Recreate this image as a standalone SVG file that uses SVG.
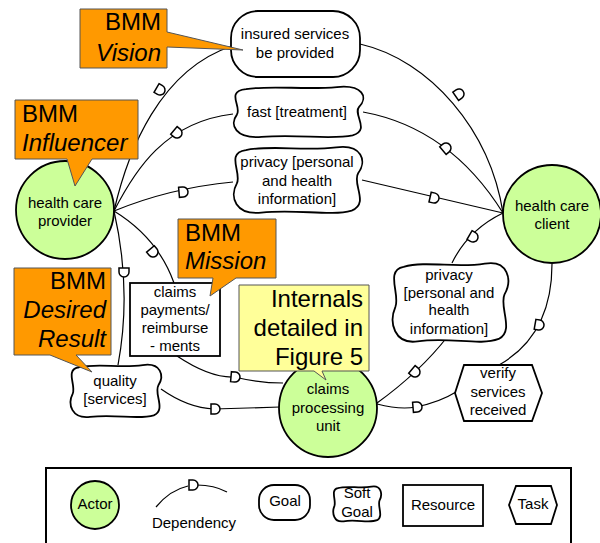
<svg xmlns="http://www.w3.org/2000/svg" xmlns:xlink="http://www.w3.org/1999/xlink" width="600" height="543" viewBox="0 0 600 543">
<style>
text{font-family:"Liberation Sans",Arial,sans-serif;fill:#000}
.t{font-size:15px;text-anchor:middle}
.c{font-size:24px}
.ce{font-size:24px;text-anchor:end}
.i{font-style:italic}
.actor{fill:#ccff99;stroke:#000;stroke-width:1.8}
.node{fill:#fff;stroke:#000;stroke-width:1.8}
.call{fill:#ff9900;stroke:#555;stroke-width:1}
.note{fill:#ffff99;stroke:#555;stroke-width:1}
.link{fill:none;stroke:#000;stroke-width:1.2}
.dm{fill:#fff;stroke:#000;stroke-width:1.5}
</style>
<defs>
<path id="soft" vector-effect="non-scaling-stroke" d="M10,6 C30,-2 55,8 80,2 C100,-3 104,22 97,40 C92,55 106,85 92,95 C75,104 50,92 22,98 C2,102 -3,75 3,55 C7,40 -6,10 10,6 Z"/>
<path id="dep" d="M-4,-5 H0 A5,5 0 0 1 0,5 H-4 Z"/>
</defs>

<g id="connectors">
<path class="link" d="M114,211 C128,150 160,70 232,46"/>
<path class="link" d="M114,211 C135,170 165,122 233,114"/>
<path class="link" d="M114,211 Q170,188 233,182"/>
<path class="link" d="M114,211 Q158,238 174,283"/>
<path class="link" d="M114,211 Q132,290 118,365"/>
<path class="link" d="M360,44 C430,60 490,130 503,213"/>
<path class="link" d="M363,112 Q450,128 503,213"/>
<path class="link" d="M362,180 L503,213"/>
<path class="link" d="M503,213 Q468,230 452,263"/>
<path class="link" d="M448,336 Q420,372 377,403"/>
<path class="link" d="M552,264 Q552,335 499,365"/>
<path class="link" d="M377,404 Q400,410 416,407 Q440,402 456,392"/>
<path class="link" d="M177,356 Q210,378 234,377 Q260,383 283,383"/>
<path class="link" d="M161,389 Q188,408 214,409 L280,407"/>
<use href="#dep" class="dm" transform="translate(160,90) rotate(30)"/>
<use href="#dep" class="dm" transform="translate(177,133) rotate(40)"/>
<use href="#dep" class="dm" transform="translate(183,192) rotate(-5)"/>
<use href="#dep" class="dm" transform="translate(153,252) rotate(50)"/>
<use href="#dep" class="dm" transform="translate(124,272) rotate(90)"/>
<use href="#dep" class="dm" transform="translate(459,94) rotate(-35)"/>
<use href="#dep" class="dm" transform="translate(446,148) rotate(-40)"/>
<use href="#dep" class="dm" transform="translate(434,198) rotate(13)"/>
<use href="#dep" class="dm" transform="translate(473,237) rotate(30)"/>
<use href="#dep" class="dm" transform="translate(415,372) rotate(40)"/>
<use href="#dep" class="dm" transform="translate(539,325) rotate(10)"/>
<use href="#dep" class="dm" transform="translate(417,407) rotate(-5)"/>
<use href="#dep" class="dm" transform="translate(235,377) rotate(5)"/>
<use href="#dep" class="dm" transform="translate(215,409) rotate(0)"/>
</g>

<g id="provider">
<circle class="actor" cx="65" cy="210" r="49"/>
<text class="t" x="65" y="208">health care</text>
<text class="t" x="65" y="226">provider</text>
</g>
<g id="client">
<circle class="actor" cx="552" cy="214" r="49"/>
<text class="t" x="552" y="211">health care</text>
<text class="t" x="552" y="229">client</text>
</g>
<g id="claims-processing">
<circle class="actor" cx="328" cy="408" r="49"/>
<text class="t" x="328" y="394">claims</text>
<text class="t" x="328" y="413">processing</text>
<text class="t" x="328" y="431">unit</text>
</g>
<g id="insured-services">
<rect class="node" x="231" y="11" width="129" height="66" rx="27"/>
<text class="t" x="295" y="39">insured services</text>
<text class="t" x="295" y="58">be provided</text>
</g>
<g id="fast">
<use href="#soft" class="node" transform="translate(233,86) scale(1.30,0.52)"/>
<text class="t" x="297" y="117">fast [treatment]</text>
</g>
<g id="privacy1">
<use href="#soft" class="node" transform="translate(233,146) scale(1.29,0.68)"/>
<text class="t" x="297" y="167">privacy [personal</text>
<text class="t" x="297" y="186">and health</text>
<text class="t" x="297" y="204">information]</text>
</g>
<g id="privacy2">
<use href="#soft" class="node" transform="translate(392,262) scale(1.16,0.81)"/>
<text class="t" x="449" y="280">privacy</text>
<text class="t" x="449" y="298">[personal and</text>
<text class="t" x="449" y="315">health</text>
<text class="t" x="449" y="334">information]</text>
</g>
<g id="claims-payments">
<rect class="node" x="130" y="283" width="90" height="73"/>
<text class="t" x="175" y="297">claims</text>
<text class="t" x="175" y="315">payments/</text>
<text class="t" x="175" y="333">reimburse</text>
<text class="t" x="175" y="351">- ments</text>
</g>
<g id="quality">
<use href="#soft" class="node" transform="translate(70,364) scale(0.91,0.54)"/>
<text class="t" x="115" y="386">quality</text>
<text class="t" x="115" y="404">[services]</text>
</g>
<g id="verify">
<polygon class="node" points="455,393 464,365 532,365 542,393 532,421 464,421"/>
<text class="t" x="498" y="378">verify</text>
<text class="t" x="498" y="397">services</text>
<text class="t" x="498" y="415">received</text>
</g>

<g id="callout-vision">
<path class="call" d="M80,9 H167 V32 L243,50 L167,47 V68 H80 Z"/>
<text class="ce" x="161" y="30">BMM</text>
<text class="ce i" x="161" y="61">Vision</text>
</g>
<g id="callout-influencer">
<path class="call" d="M15,100 H138 V159 H92 L75,186 L67,159 H15 Z"/>
<text class="c" x="22" y="122">BMM</text>
<text class="c i" x="22" y="151">Influencer</text>
</g>
<g id="callout-mission">
<path class="call" d="M178,219 H276 V278 H236 L210,296 L213,278 H178 Z"/>
<text class="c" x="185" y="241">BMM</text>
<text class="c i" x="185" y="269">Mission</text>
</g>
<g id="callout-result">
<path class="call" d="M14,268 H111 V355 H76 L92,372 L50,355 H14 Z"/>
<text class="ce" x="106" y="289">BMM</text>
<text class="ce i" x="106" y="318">Desired</text>
<text class="ce i" x="106" y="347">Result</text>
</g>
<g id="note-internals">
<path class="note" d="M239,285 H369 V371 H322 L326,380 L314,371 H239 Z"/>
<text class="ce" x="363" y="307">Internals</text>
<text class="ce" x="363" y="336">detailed in</text>
<text class="ce" x="363" y="365">Figure 5</text>
</g>

<g id="legend">
<rect x="46" y="468" width="525" height="80" fill="#fff" stroke="#000" stroke-width="2"/>
<circle class="actor" cx="95" cy="505" r="24"/>
<text class="t" x="95" y="509">Actor</text>
<path class="link" d="M156,507 Q170,490 188,486 M197,485 Q214,485 227,492"/>
<use href="#dep" class="dm" transform="translate(193,485)"/>
<text class="t" x="194" y="528">Dependency</text>
<rect class="node" x="259" y="485" width="51" height="35" rx="15"/>
<text class="t" x="285" y="506">Goal</text>
<use href="#soft" class="node" transform="translate(333,486) scale(0.48,0.36)"/>
<text class="t" x="357" y="498">Soft</text>
<text class="t" x="357" y="517">Goal</text>
<rect class="node" x="403" y="485" width="80" height="41"/>
<text class="t" x="443" y="510">Resource</text>
<polygon class="node" points="509,505 516,486 551,486 557,505 551,524 516,524"/>
<text class="t" x="533" y="509">Task</text>
</g>
</svg>
